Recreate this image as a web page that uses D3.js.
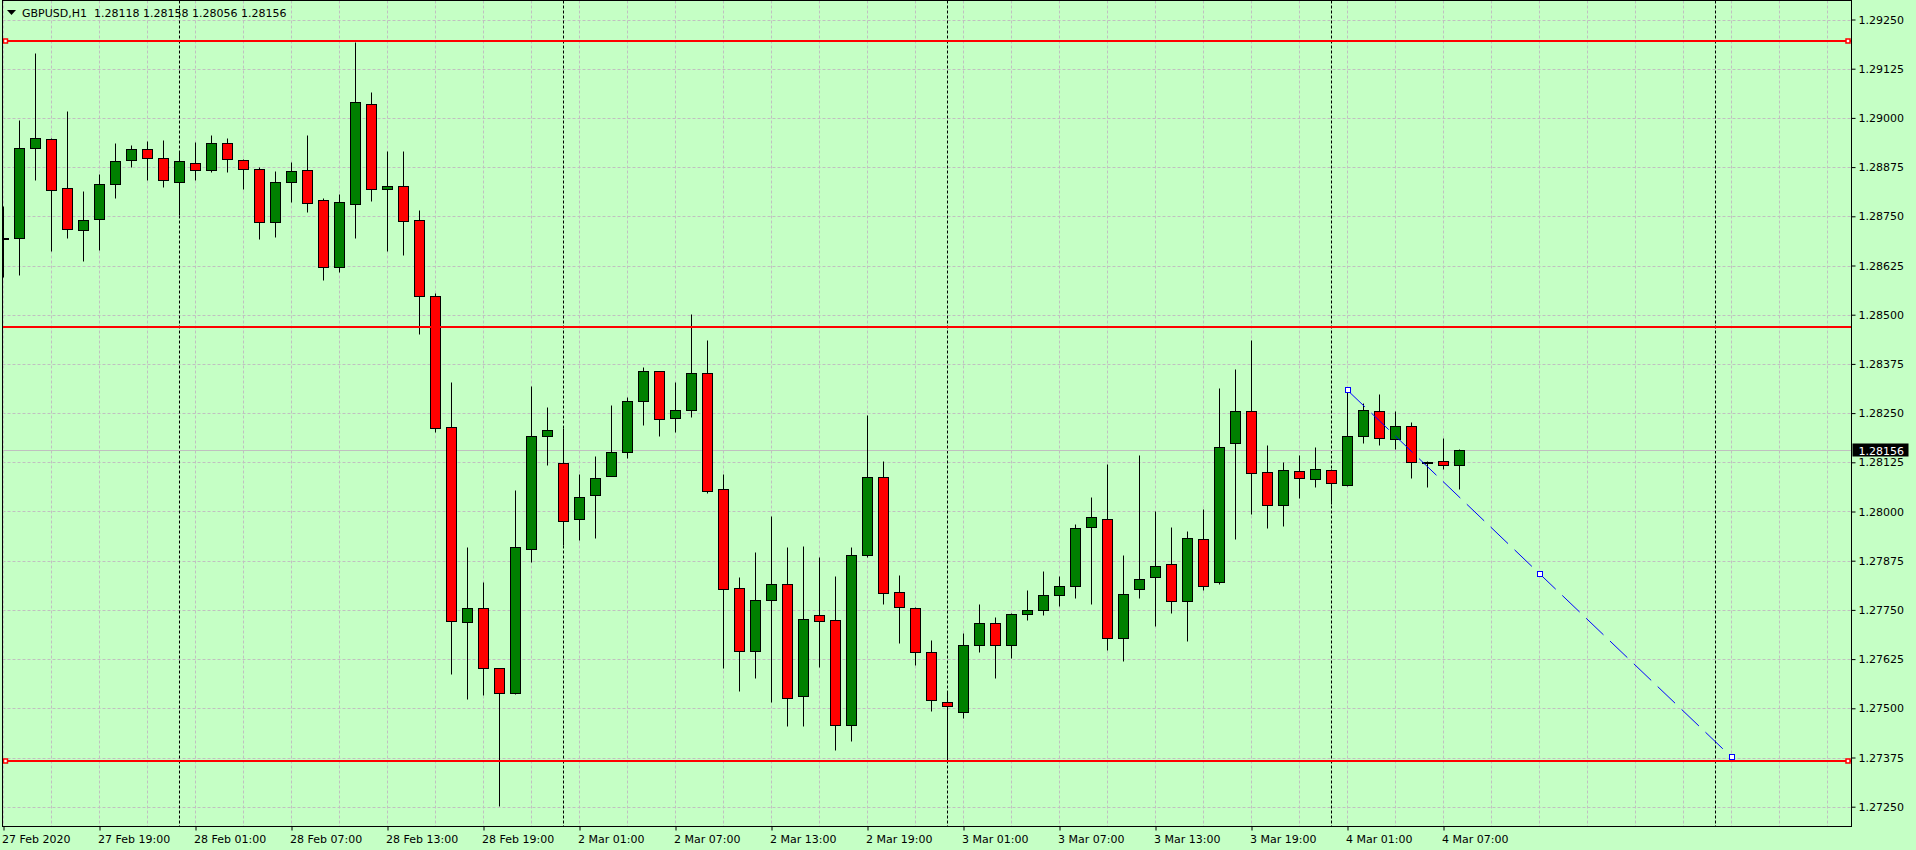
<!DOCTYPE html>
<html>
<head>
<meta charset="utf-8">
<script src="https://cdn.jsdelivr.net/npm/d3@7"></script>
<style>
  html, body { margin: 0; padding: 0; background: #c5ffc5; }
  svg { display: block; }
  text { font-family: "DejaVu Sans", sans-serif; font-size: 11px; fill: #000; }
</style>
</head>
<body>
<script>
// Chart basic vars
var width = 1916,
    height = 850,
    plot = {left: 2.5, top: 0.5, right: 1851.5, bottom: 826.5};

// GBPUSD H1 bars, 27 Feb 2020 13:00 -> 4 Mar 2020 08:00
var symbol = "GBPUSD,H1";
var opens = [1.28696, 1.28694, 1.28923, 1.28946, 1.28821, 1.28716, 1.28742, 1.28831, 1.28892, 1.28920,
             1.28897, 1.28837, 1.28885, 1.28867, 1.28936, 1.28892, 1.28870, 1.28735, 1.28836, 1.28867,
             1.28791, 1.28620, 1.28782, 1.29035, 1.28820, 1.28826, 1.28740, 1.28547, 1.28215, 1.27720,
             1.27756, 1.27603, 1.27540, 1.27905, 1.28191, 1.28122, 1.27980, 1.28043, 1.28091, 1.28152,
             1.28282, 1.28356, 1.28238, 1.28259, 1.28353, 1.28056, 1.27805, 1.27645, 1.27775, 1.27815,
             1.27531, 1.27737, 1.27724, 1.27457, 1.27889, 1.28087, 1.27795, 1.27755, 1.27643, 1.27516,
             1.27490, 1.27660, 1.27716, 1.27660, 1.27739, 1.27749, 1.27787, 1.27810, 1.27960, 1.27981,
             1.27678, 1.27803, 1.27833, 1.27866, 1.27772, 1.27930, 1.27820, 1.28174, 1.28255, 1.28100,
             1.28016, 1.28102, 1.28082, 1.28105, 1.28067, 1.28193, 1.28255, 1.28184, 1.28216, 1.28126,
             1.28128, 1.28118];
var highs = [1.28776, 1.28995, 1.29166, 1.28948, 1.29018, 1.28814, 1.28858, 1.28936, 1.28931, 1.28941,
             1.28944, 1.28913, 1.28939, 1.28956, 1.28949, 1.28895, 1.28875, 1.28865, 1.28888, 1.28957,
             1.28796, 1.28807, 1.29194, 1.29066, 1.28916, 1.28916, 1.28766, 1.28554, 1.28329, 1.27911,
             1.27820, 1.27603, 1.28054, 1.28318, 1.28265, 1.28213, 1.28095, 1.28142, 1.28270, 1.28292,
             1.28368, 1.28358, 1.28329, 1.28502, 1.28435, 1.28096, 1.27834, 1.27897, 1.27989, 1.27910,
             1.27913, 1.27885, 1.27837, 1.27910, 1.28245, 1.28128, 1.27839, 1.27757, 1.27674, 1.27541,
             1.27692, 1.27765, 1.27732, 1.27742, 1.27801, 1.27849, 1.27837, 1.27968, 1.28037, 1.28121,
             1.27889, 1.28143, 1.28002, 1.27960, 1.27950, 1.28006, 1.28313, 1.28362, 1.28436, 1.28168,
             1.28125, 1.28144, 1.28164, 1.28108, 1.28308, 1.28275, 1.28299, 1.28256, 1.28227, 1.28129,
             1.28187, 1.28158];
var lows = [1.28597, 1.28602, 1.28843, 1.28663, 1.28696, 1.28637, 1.28665, 1.28797, 1.28874, 1.28841,
            1.28825, 1.28753, 1.28842, 1.28863, 1.28863, 1.28820, 1.28693, 1.28698, 1.28786, 1.28762,
            1.28589, 1.28609, 1.28696, 1.28790, 1.28663, 1.28652, 1.28451, 1.28203, 1.27588, 1.27523,
            1.27533, 1.27252, 1.27537, 1.27871, 1.28119, 1.27914, 1.27928, 1.27933, 1.28089, 1.28137,
            1.28221, 1.28192, 1.28202, 1.28240, 1.28047, 1.27602, 1.27543, 1.27578, 1.27515, 1.27454,
            1.27456, 1.27606, 1.27393, 1.27416, 1.27884, 1.27764, 1.27667, 1.27610, 1.27492, 1.27365,
            1.27475, 1.27643, 1.27578, 1.27629, 1.27725, 1.27736, 1.27759, 1.27781, 1.27766, 1.27647,
            1.27619, 1.27781, 1.27710, 1.27741, 1.27670, 1.27800, 1.27816, 1.27931, 1.27993, 1.27957,
            1.27962, 1.28035, 1.28063, 1.28018, 1.28065, 1.28173, 1.28170, 1.28160, 1.28084, 1.28063,
            1.28109, 1.28056];
var closes = [1.28696, 1.28923, 1.28948, 1.28818, 1.28719, 1.28740, 1.28831, 1.28890, 1.28920, 1.28897,
              1.28842, 1.28890, 1.28867, 1.28936, 1.28895, 1.28870, 1.28735, 1.28837, 1.28864, 1.28785,
              1.28620, 1.28786, 1.29040, 1.28820, 1.28826, 1.28739, 1.28548, 1.28213, 1.27723, 1.27756,
              1.27603, 1.27540, 1.27910, 1.28193, 1.28208, 1.27977, 1.28038, 1.28086, 1.28152, 1.28282,
              1.28356, 1.28235, 1.28259, 1.28353, 1.28052, 1.27802, 1.27645, 1.27775, 1.27815, 1.27526,
              1.27727, 1.27721, 1.27457, 1.27889, 1.28087, 1.27793, 1.27757, 1.27643, 1.27521, 1.27506,
              1.27660, 1.27716, 1.27660, 1.27739, 1.27749, 1.27787, 1.27810, 1.27958, 1.27986, 1.27678,
              1.27790, 1.27828, 1.27861, 1.27772, 1.27932, 1.27810, 1.28163, 1.28255, 1.28097, 1.28016,
              1.28105, 1.28085, 1.28108, 1.28072, 1.28191, 1.28257, 1.28186, 1.28216, 1.28125, 1.28126,
              1.28118, 1.28156];

// time axis labels (bar index -> text)
var labelBars = [0, 6, 12, 18, 24, 30, 36, 42, 48, 54, 60, 66, 72, 78, 84, 90];
var timeLabels = ["27 Feb 2020", "27 Feb 19:00", "28 Feb 01:00", "28 Feb 07:00", "28 Feb 13:00",
                  "28 Feb 19:00", "2 Mar 01:00", "2 Mar 07:00", "2 Mar 13:00", "2 Mar 19:00",
                  "3 Mar 01:00", "3 Mar 07:00", "3 Mar 13:00", "3 Mar 19:00", "4 Mar 01:00", "4 Mar 07:00"];
var separatorBars = [11, 35, 59, 83, 107];

var priceTicks = [1.27250, 1.27375, 1.27500, 1.27625, 1.27750, 1.27875, 1.28000, 1.28125, 1.28250,
                  1.28375, 1.28500, 1.28625, 1.28750, 1.28875, 1.29000, 1.29125, 1.29250];

// drawn objects
var levels = [1.29195, 1.28469, 1.27365],
    levelMarked = [true, false, true];
var trendBars = [84, 108],
    trendPrices = [1.28308, 1.27376];

// scales
var x = d3.scaleLinear().domain([0, 1]).range([3.5, 19.5]),
    y = d3.scaleLinear().domain([1.2725, 1.2925]).range([806.7, 19.5]);
function yy(v) { return Math.round(y(v)) + 0.5; }

var svg = d3.select("body").append("svg")
    .attr("width", width)
    .attr("height", height);

svg.append('defs').append('clipPath').attr('id', 'plotclip')
  .append('rect')
    .attr('x', plot.left + 0.5).attr('y', plot.top + 0.5)
    .attr('width', plot.right - plot.left - 1).attr('height', plot.bottom - plot.top - 1);

var grid = svg.append('g').attr('clip-path', 'url(#plotclip)');

// grid
var gridBars = d3.range(0, 116, 3);
grid.selectAll('.vgrid').data(gridBars)
  .enter().append('line')
    .attr('x1', function(d) { return x(d); }).attr('x2', function(d) { return x(d); })
    .attr('y1', plot.top).attr('y2', plot.bottom)
    .attr('stroke', '#c0c0c0').attr('stroke-dasharray', '3,2');
grid.selectAll('.hgrid').data(priceTicks)
  .enter().append('line')
    .attr('x1', plot.left).attr('x2', plot.right)
    .attr('y1', function(d) { return yy(d); }).attr('y2', function(d) { return yy(d); })
    .attr('stroke', '#c0c0c0').attr('stroke-dasharray', '3,2');

// day separators
grid.selectAll('.sep').data(separatorBars)
  .enter().append('line')
    .attr('x1', function(d) { return x(d); }).attr('x2', function(d) { return x(d); })
    .attr('y1', plot.top).attr('y2', plot.bottom)
    .attr('stroke', '#000').attr('stroke-dasharray', '3,2');

// bid line
var last = closes.length - 1;
grid.append('line')
    .attr('x1', plot.left).attr('x2', plot.right)
    .attr('y1', yy(closes[last])).attr('y2', yy(closes[last]))
    .attr('stroke', '#c0c0c0');

// candles
var bars = d3.range(opens.length);
var candles = grid.selectAll('.candle').data(bars)
  .enter().append('g');
candles.append('line')
    .attr('x1', function(d) { return x(d); }).attr('x2', function(d) { return x(d); })
    .attr('y1', function(d) { return yy(highs[d]); })
    .attr('y2', function(d) { return yy(lows[d]); })
    .attr('stroke', '#000');
candles.append('rect')
    .attr('x', function(d) { return x(d) - 5; })
    .attr('y', function(d) { return Math.min(yy(opens[d]), yy(closes[d])); })
    .attr('width', 10)
    .attr('height', function(d) { return Math.max(1, Math.abs(yy(opens[d]) - yy(closes[d]))); })
    .style('fill', function(d) { return closes[d] >= opens[d] ? '#008000' : '#ff0000'; })
    .attr('stroke', '#000');

// horizontal levels
grid.selectAll('.level').data(levels)
  .enter().append('line')
    .attr('x1', plot.left).attr('x2', plot.right)
    .attr('y1', function(d) { return Math.round(y(d)); }).attr('y2', function(d) { return Math.round(y(d)); })
    .attr('stroke', '#ff0000').attr('stroke-width', 2);
levels.forEach(function(v, i) {
    if (!levelMarked[i]) return;
    [plot.left + 3, plot.right - 3.5].forEach(function(px) {
        grid.append('rect')
            .attr('x', px - 2).attr('y', Math.round(y(v)) - 2)
            .attr('width', 4).attr('height', 4)
            .attr('fill', '#fff').attr('stroke', '#ff0000').attr('stroke-width', 1.5);
    });
});

// trend line
var trendLine = d3.line()
    .x(function(d) { return x(d[0]); })
    .y(function(d) { return y(d[1]); });
var trendPts = trendBars.map(function(b, i) { return [b, trendPrices[i]]; });
grid.append('path')
    .attr('d', trendLine(trendPts))
    .attr('fill', 'none').attr('stroke', '#0000ff').attr('stroke-dasharray', '24,9');
var trendMid = [(trendBars[0] + trendBars[1]) / 2, (trendPrices[0] + trendPrices[1]) / 2];
grid.selectAll('.tmark').data(trendPts.concat([trendMid]))
  .enter().append('rect')
    .attr('x', function(d) { return Math.round(x(d[0])) - 2.5; })
    .attr('y', function(d) { return Math.round(y(d[1])) - 2.5; })
    .attr('width', 5).attr('height', 5)
    .attr('fill', '#fff').attr('stroke', '#0000ff');

// frame
svg.append('rect')
    .attr('x', plot.left).attr('y', plot.top)
    .attr('width', plot.right - plot.left).attr('height', plot.bottom - plot.top)
    .attr('fill', 'none').attr('stroke', '#000');

// axes
var yAxis = d3.axisRight(y).tickValues(priceTicks).tickFormat(d3.format('.5f')).tickSize(4).tickPadding(3);
var ya = svg.append('g')
    .attr('transform', 'translate(' + plot.right + ',0)')
    .call(yAxis);
ya.select('.domain').remove();
ya.selectAll('text').attr('font-family', 'DejaVu Sans').attr('font-size', 11);

var xAxis = d3.axisBottom(x).tickValues(labelBars)
    .tickFormat(function(d, i) { return timeLabels[i]; }).tickSize(4);
var xa = svg.append('g')
    .attr('transform', 'translate(0,' + plot.bottom + ')')
    .call(xAxis);
xa.select('.domain').remove();
xa.selectAll('text')
    .attr('text-anchor', 'start').attr('x', -2).attr('y', 16).attr('dy', 0)
    .attr('font-family', 'DejaVu Sans').attr('font-size', 11);

// current price label
svg.append('rect')
    .attr('x', plot.right + 1).attr('y', yy(closes[last]) - 7)
    .attr('width', 56).attr('height', 13).attr('fill', '#000');
svg.append('text')
    .attr('x', plot.right + 7).attr('y', yy(closes[last]) + 4)
    .style('fill', '#fff')
    .text(d3.format('.5f')(closes[last]));

// header
svg.append('path').attr('d', 'M7,10L16,10L11.5,15Z').attr('fill', '#000');
svg.append('text')
    .attr('x', 22).attr('y', 17)
    .style('white-space', 'pre')
    .text(symbol + '  ' + [opens[last], highs[last], lows[last], closes[last]].map(d3.format('.5f')).join(' '));
</script>
</body>
</html>
